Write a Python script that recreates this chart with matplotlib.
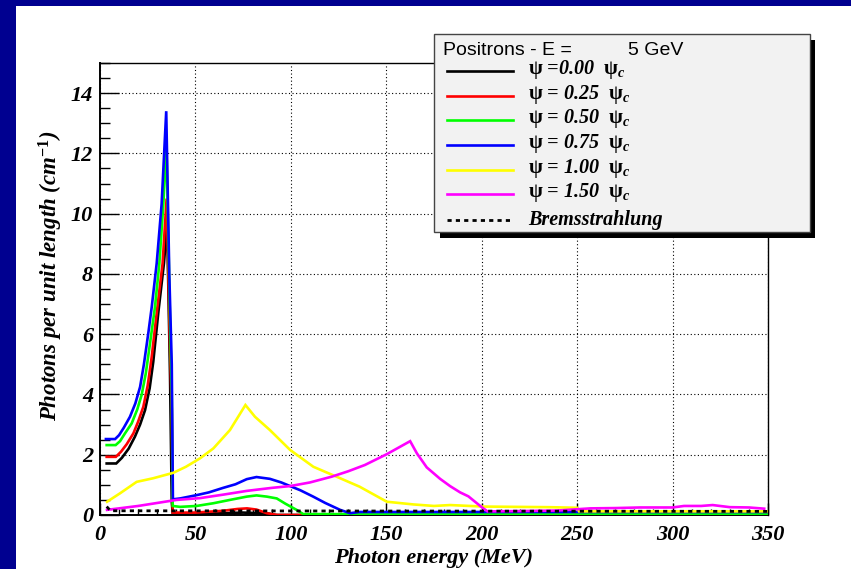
import matplotlib
matplotlib.use("Agg")
import matplotlib.pyplot as plt
from matplotlib.patches import Rectangle
from matplotlib.lines import Line2D

plt.rcParams["mathtext.fontset"] = "custom"
plt.rcParams["mathtext.rm"] = "Liberation Serif:bold"
plt.rcParams["mathtext.it"] = "Liberation Serif:italic:bold"
plt.rcParams["mathtext.bf"] = "Liberation Serif:bold"

# ---- data: photon spectra per unit length vs photon energy ----
x_psi000 = [3.5, 8.5, 11.5, 15, 18.3, 21, 23.6, 26, 27.9, 30.5, 33.5, 34.9, 35.3, 36.7, 37.6, 38.1,
            60, 75, 88, 92, 350]
y_psi000 = [1.71, 1.71, 1.9, 2.2, 2.6, 3.0, 3.48, 4.2, 5.08, 6.69, 8.35, 9.45, 9.2, 4.6, 0.44, 0.05,
            0.05, 0.08, 0.05, 0.0, 0.0]

x_psi025 = [3.5, 8.3, 11, 14, 17.5, 20, 22.7, 25, 27.1, 29.7, 32.8, 34.9, 36.5, 37.6, 38.1,
            50, 64.5, 72, 77, 82, 87.4, 93, 350]
y_psi025 = [1.93, 1.93, 2.1, 2.35, 2.71, 3.1, 3.59, 4.3, 5.25, 6.69, 8.35, 10.5, 6.0, 3.5, 0.08,
            0.08, 0.14, 0.2, 0.22, 0.18, 0.06, 0.0, 0.0]

x_psi050 = [3.5, 8.2, 10.5, 13, 16.6, 19.5, 21.8, 24, 26.2, 28.8, 31.1, 33.2, 34.8, 36.5, 37.6, 38.1,
            42, 50.6, 59.4, 68, 76.9, 82, 87.4, 92.6, 97, 103, 106.5, 350]
y_psi050 = [2.32, 2.32, 2.45, 2.7, 3.04, 3.5, 3.98, 4.7, 5.69, 6.9, 8.35, 10.33, 12.3, 7.0, 4.0, 0.3,
            0.27, 0.3, 0.39, 0.5, 0.61, 0.65, 0.61, 0.55, 0.38, 0.17, 0.03, 0.03]

x_psi075 = [3.1, 7.9, 10, 12.5, 15.7, 18.5, 21, 23, 25.3, 27.1, 29.7, 32.3, 34.7, 36.3, 37.6, 38.2,
            42, 50.7, 57, 64.5, 71, 76.9, 82, 89, 95, 99.6, 105, 111.7, 118, 125.8, 131, 136, 350]
y_psi075 = [2.52, 2.52, 2.65, 2.9, 3.26, 3.7, 4.25, 5.0, 6.03, 6.9, 8.35, 10.33, 13.4, 8.0, 5.0, 0.52,
            0.55, 0.66, 0.75, 0.9, 1.02, 1.19, 1.26, 1.2, 1.08, 0.96, 0.82, 0.61, 0.4, 0.17, 0.06, 0.1, 0.1]

x_psi100 = [3.7, 10.5, 19.2, 27.9, 38.4, 45, 52.4, 59.4, 68.1, 76.2, 81.2, 89, 99.6, 111.8, 124, 136,
            150.3, 164.3, 175, 183.4, 200.8, 235, 250, 251, 350]
y_psi100 = [0.44, 0.72, 1.1, 1.22, 1.4, 1.6, 1.88, 2.21, 2.82, 3.65, 3.26, 2.82, 2.16, 1.6, 1.27, 0.94,
            0.44, 0.35, 0.3, 0.33, 0.28, 0.26, 0.24, 0.12, 0.12]

x_psi150 = [3.7, 20, 40, 52.4, 65, 76.9, 90, 99.6, 110, 121.3, 130, 138.8, 150.3, 162.5, 166, 171.2,
            178.2, 183.4, 188.7, 193, 199.2, 203, 220, 240, 257, 270, 283, 300, 306, 315, 321, 330, 340, 348]
y_psi150 = [0.17, 0.3, 0.5, 0.56, 0.68, 0.8, 0.9, 0.96, 1.08, 1.27, 1.45, 1.66, 2.02, 2.45, 2.05, 1.58,
            1.2, 0.96, 0.75, 0.62, 0.3, 0.12, 0.13, 0.15, 0.22, 0.23, 0.25, 0.25, 0.3, 0.3, 0.33, 0.26, 0.25, 0.21]

x_brems = [3.5, 5.5, 350]
y_brems = [0.28, 0.14, 0.12]

series_x = [x_psi000, x_psi025, x_psi050, x_psi075, x_psi100, x_psi150]
series_y = [y_psi000, y_psi025, y_psi050, y_psi075, y_psi100, y_psi150]
series_colors = ["#000000", "#ff0000", "#00ff00", "#0000ff", "#ffff00", "#ff00ff"]
psi_values = ["=0.00", "= 0.25", "= 0.50", "= 0.75", "= 1.00", "= 1.50"]
series_labels = [r"$\mathrm{\psi}$ " + v + r"  $\mathrm{\psi}_{c}$" for v in psi_values]
brems_label = "Bremsstrahlung"
legend_title = "Positrons - E ="
legend_energy = "5 GeV"

x_ticks = [0, 50, 100, 150, 200, 250, 300, 350]
y_ticks = [0, 2, 4, 6, 8, 10, 12, 14]

W, H = 851, 569
fig = plt.figure(figsize=(W / 100, H / 100), dpi=100)
fig.patch.set_facecolor("white")


def fx(px):
    return px / W


def fy(py):
    return 1 - py / H


# navy frame strips
fig.add_artist(Rectangle((0, fy(6)), 1, 6 / H, transform=fig.transFigure,
                         facecolor="#000090", edgecolor="none", zorder=0))
fig.add_artist(Rectangle((0, 0), 16 / W, 1, transform=fig.transFigure,
                         facecolor="#000090", edgecolor="none", zorder=0))

ax = fig.add_axes([fx(100), fy(515), fx(768) - fx(100), fy(63) - fy(515)])
ax.set_xlim(0, 350)
ax.set_ylim(0, 15)

serif_bi = dict(family="Liberation Serif", weight="bold", style="italic")

for xs, ys, c in zip(series_x, series_y, series_colors):
    ax.plot(xs, ys, color=c, lw=1.9, solid_joinstyle="miter", zorder=3)
ax.plot(x_brems, y_brems, color="black", lw=2.0, linestyle=(0, (1.5, 1.5)), zorder=4)

ax.set_xticks(x_ticks)
ax.set_yticks(y_ticks)
ax.set_xticks(range(0, 351, 10), minor=True)
ax.set_yticks([v * 0.5 for v in range(0, 31)], minor=True)
ax.grid(True, which="major", color="black", lw=0.8, linestyle=(0, (1, 2.2)), zorder=1)
ax.tick_params(axis="y", which="major", direction="in", length=14, width=1.0, pad=5,
               left=True, right=False)
ax.tick_params(axis="y", which="minor", direction="in", length=7, width=1.0, left=True, right=False)
ax.tick_params(axis="x", which="major", direction="in", length=8.5, width=1.0, pad=7,
               bottom=True, top=False)
ax.tick_params(axis="x", which="minor", direction="in", length=4, width=1.0, bottom=True, top=False)
ax.set_xticklabels([str(v) for v in x_ticks], fontsize=16, **serif_bi)
ax.set_yticklabels([str(v) for v in y_ticks], fontsize=16, **serif_bi)
for s in ["left", "bottom"]:
    ax.spines[s].set_linewidth(1.4)
for s in ["top", "right"]:
    ax.spines[s].set_linewidth(1.0)

ax.set_xlabel("Photon energy (MeV)", fontsize=16, labelpad=2, **serif_bi)
ax.set_ylabel("Photons per unit length (cm$^{-1}$)", fontsize=16.5, labelpad=4, **serif_bi)
ax.yaxis.label.set_position((0, 0.53))

# legend box with drop shadow
fig.add_artist(Rectangle((fx(440), fy(238)), fx(815) - fx(440), fy(40) - fy(238),
                         transform=fig.transFigure, facecolor="black", edgecolor="none", zorder=10))
fig.add_artist(Rectangle((fx(434), fy(232)), fx(810) - fx(434), fy(34) - fy(232),
                         transform=fig.transFigure, facecolor="#f2f2f2", edgecolor="#444444",
                         lw=1.0, zorder=11))
fig.text(fx(443), fy(55), legend_title, fontsize=14, family="Liberation Sans",
         va="baseline", ha="left", zorder=12)
fig.text(fx(628), fy(55), legend_energy, fontsize=14, family="Liberation Sans",
         va="baseline", ha="left", zorder=12)

row_y = [71, 96, 120, 145, 170, 194]
for yy, c, lab in zip(row_y, series_colors, series_labels):
    fig.add_artist(Line2D([fx(447), fx(513)], [fy(yy), fy(yy)], transform=fig.transFigure,
                          color=c, lw=1.9, zorder=12))
    fig.text(fx(528), fy(yy + 3), lab, fontsize=14.5, va="baseline", ha="left", zorder=12, **serif_bi)
fig.add_artist(Line2D([fx(447), fx(513)], [fy(220), fy(220)], transform=fig.transFigure,
                      color="black", lw=2.0, linestyle=(0, (1.5, 1.5)), zorder=12))
fig.text(fx(528), fy(225), brems_label, fontsize=14.5, va="baseline", ha="left", zorder=12, **serif_bi)

fig.savefig("out.png", dpi=100)
